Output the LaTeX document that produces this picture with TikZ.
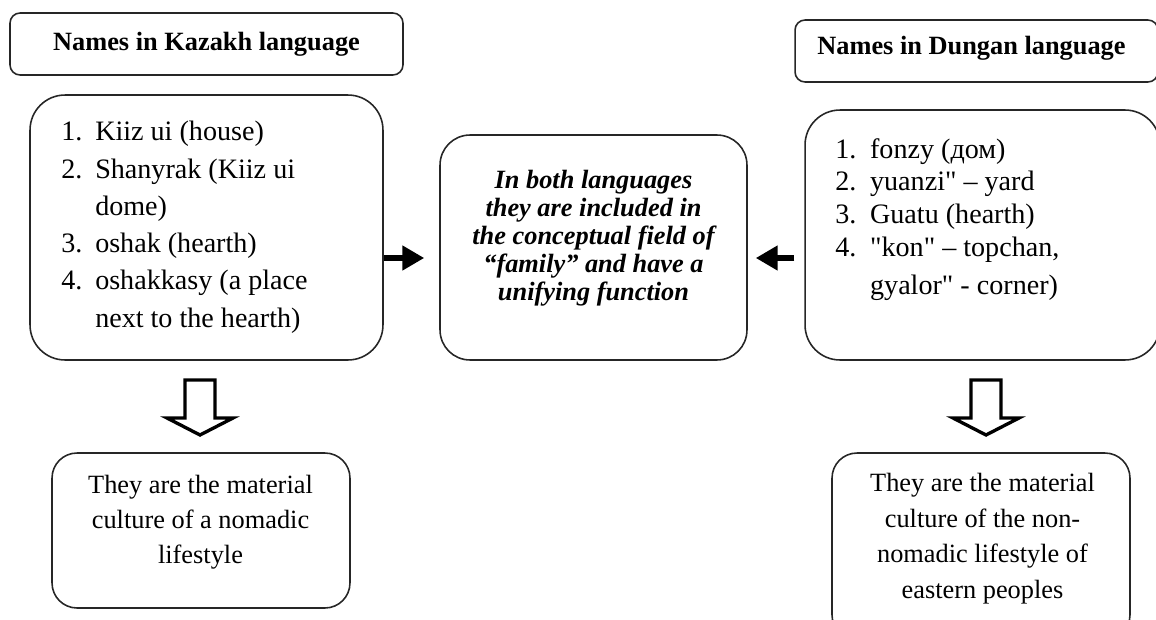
\documentclass[tikz,border=0pt]{standalone}
\usepackage{fontspec}
\setmainfont{Liberation Serif}
\usetikzlibrary{arrows.meta}
\tikzset{
	box/.style={draw=black!85, line width=0.9pt, inner sep=0pt},
	fatarrow/.style={line width=3.5pt, -{Triangle[length=12.5pt,width=13.5pt]}},
	hollow/.style={draw=black, line width=1.9pt, line join=miter, fill=white},
	words/.style={inner sep=0pt, align=center}
}
% straight double quote, kept away from the tex-text mapping
\newcommand\sq{\XeTeXglyph\XeTeXcharglyph"22\relax}
\def\hollowdown(#1,#2){\draw[hollow] (#1-15,#2) -- (#1+15,#2) -- (#1+15,#2+38) -- (#1+33,#2+38) -- (#1,#2+55) -- (#1-33,#2+38) -- (#1-15,#2+38) -- cycle;}

\begin{document}
\begin{tikzpicture}[x=0.02cm, y=-0.02cm]
		%%%%% START %%%%%
		\useasboundingbox (0,0) rectangle (1156,619);
		
		% headings
		\node[box, rounded corners=2mm, minimum width=78.6mm, minimum height=12.4mm,
		font=\fontsize{15}{18}\selectfont\bfseries] (kzhead) at (206.5,44) {Names in Kazakh language};
		\node[box, rounded corners=2mm, minimum width=72.6mm, minimum height=12.4mm] (dghead) at (976.5,51) {};
		\node[words, font=\fontsize{15}{18}\selectfont\bfseries] (dgtitle) at (971.5,48) {Names in Dungan language};
		
		% lists of names
		\node[box, rounded corners=7mm, minimum width=70.6mm, minimum height=53mm] (kzlist) at (206.5,227.5) {};
		\node[inner sep=0pt, anchor=west, font=\fontsize{16}{21.2}\selectfont] (kzitems) at (61,226.5) {%
			\begin{tabular}{@{}p{19.3pt}@{}l@{}}
				1. & Kiiz ui (house)\\
				2. & Shanyrak (Kiiz ui\\
				   & dome)\\
				3. & oshak (hearth)\\
				4. & oshakkasy (a place\\
				   & next to the hearth)
			\end{tabular}};
		
		\node[box, rounded corners=7mm, minimum width=71mm, minimum height=50mm] (dglist) at (982.5,235) {};
		\node[inner sep=0pt, anchor=west, font=\fontsize{16}{18.6}\selectfont] (dgitems) at (835,220) {%
			\begin{tabular}{@{}p{19.8pt}@{}l@{}}
				1. & fonzy (дом)\\
				2. & yuanzi\sq{} – yard\\
				3. & Guatu (hearth)\\
				4. & \sq{}kon\sq{} – topchan,\\[3.5pt]
				   & gyalor\sq{} - corner)
			\end{tabular}};
		
		% common field
		\node[box, rounded corners=6mm, minimum width=61.4mm, minimum height=45mm] (common) at (593.5,247.5) {};
		\node[words, font=\fontsize{15}{15.9}\selectfont\bfseries\itshape] (commontext) at (593.5,238.5)
		{In both languages\\ they are included in\\ the conceptual field of\\ “family” and have a\\ unifying function};
		
		\draw[fatarrow] (kzlist.east |- 0,258) -- ([xshift=-3mm]common.west |- 0,258);
		\draw[fatarrow] ([xshift=-2mm]dglist.west |- 0,258) -- ([xshift=1.6mm]common.east |- 0,258);
		
		% conclusions
		\hollowdown(200,380)
		\hollowdown(986,380)
		
		\node[box, rounded corners=5mm, minimum width=59.6mm, minimum height=31mm] (kznote) at (201,530.5) {};
		\node[words, font=\fontsize{15}{19.8}\selectfont] (kznotetext) at (200.5,522)
		{They are the material\\ culture of a nomadic\\ lifestyle};
		
		\node[box, rounded corners=5mm, minimum width=59.6mm, minimum height=37.4mm] (dgnote) at (981,546.5) {};
		\node[words, font=\fontsize{15}{20.2}\selectfont] (dgnotetext) at (982.5,538.5)
		{They are the material\\ culture of the non-\\ nomadic lifestyle of\\ eastern peoples};
		
		%%%%% END %%%%%
\end{tikzpicture}
\end{document}
